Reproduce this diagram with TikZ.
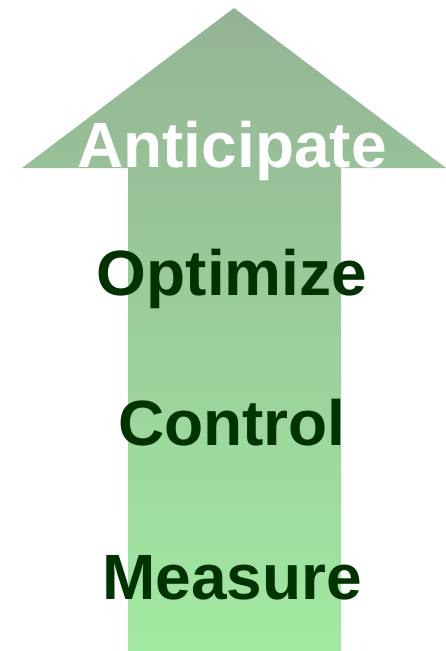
\documentclass[tikz,border=0pt]{standalone}
\usepackage{fontspec}
\setmainfont{Liberation Sans}
\begin{document}
\begin{tikzpicture}[x=1pt,y=-1pt,
  lbl/.style={font=\bfseries\fontsize{64}{64}\selectfont, inner sep=0pt, anchor=base},
  dark/.style={lbl, text=darkgreen},
  light/.style={lbl, text=white}]
\definecolor{darkgreen}{RGB}{0,51,0}
\definecolor{topgreen}{RGB}{148,180,148}
\definecolor{botgreen}{RGB}{161,233,161}
\useasboundingbox (0,0) rectangle (446,651);
\shade[top color=topgreen, bottom color=botgreen]
  (128,651) -- (128,168) -- (22,168) -- (234,8) -- (446,168) -- (341,168) -- (341,651) -- cycle;
\node[light] (anticipate) at (232,167) {Anticipate};
\node[dark] (optimize) at (232,295) {Optimize};
\node[dark] (control) at (232,445) {Control};
\node[dark] (measure) at (232,599) {Measure};
\end{tikzpicture}
\end{document}
